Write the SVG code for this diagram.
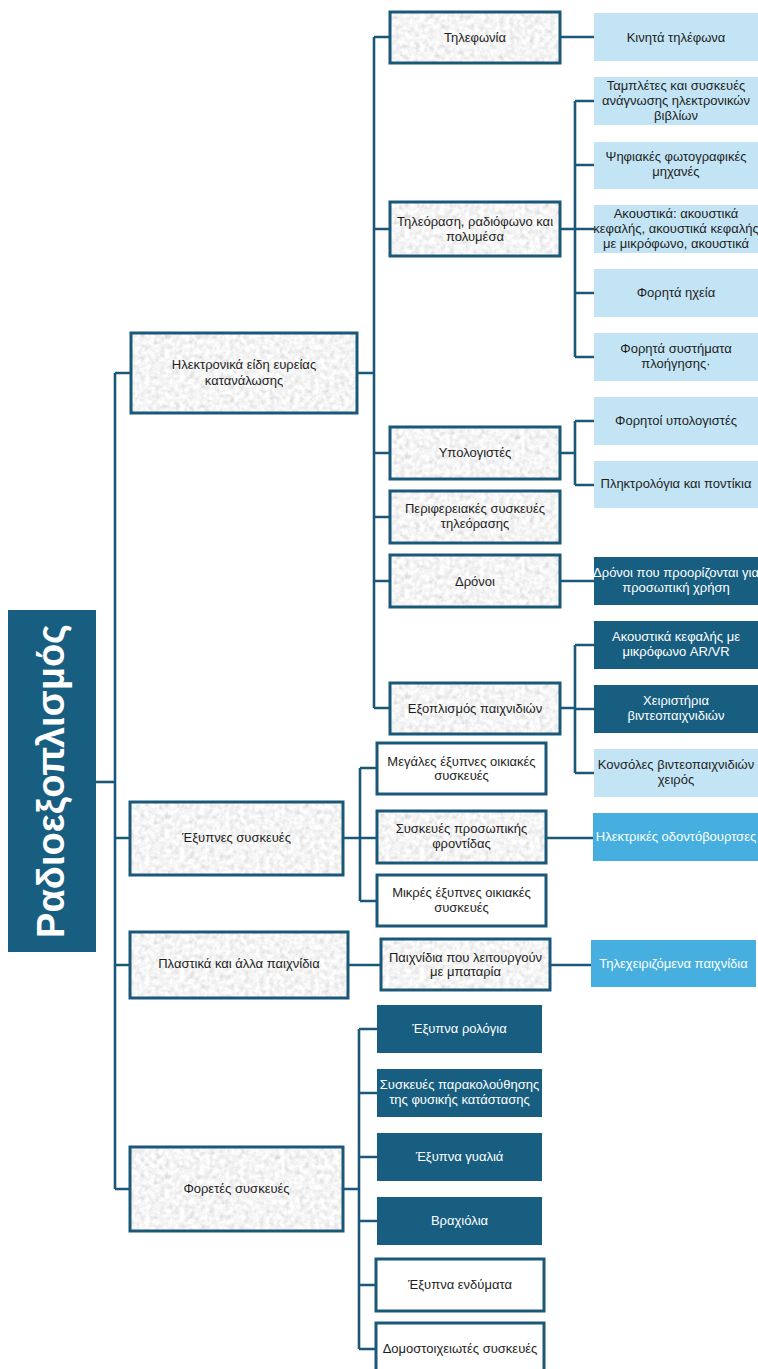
<svg xmlns="http://www.w3.org/2000/svg" width="758" height="1369" viewBox="0 0 758 1369">
<defs>
<filter id="noise" x="0" y="0" width="100%" height="100%">
<feTurbulence type="fractalNoise" baseFrequency="0.2" numOctaves="4" seed="7" stitchTiles="stitch"/>
<feColorMatrix type="matrix" values="0.35 0.35 0 0 0.56  0.35 0.35 0 0 0.56  0.35 0.35 0 0 0.56  0 0 0 0 1"/>
</filter>
<pattern id="marble" patternUnits="userSpaceOnUse" width="240" height="120">
<rect width="240" height="120" fill="#eeeeee" filter="url(#noise)"/>
</pattern>
</defs>
<style>
text{font-family:"Liberation Sans",Arial,sans-serif;font-size:13px;text-anchor:middle;fill:#1e1e1e}
.gray{fill:url(#marble);stroke:#1b5878;stroke-width:3}
.white{fill:#ffffff;stroke:#1b5878;stroke-width:3}
.dark{fill:#185e80}
.light{fill:#c3e4f4}
.mid{fill:#46afe0}
text.w{fill:#ffffff}
.conn path{fill:none;stroke:#1b5878;stroke-width:2.6}
.root{fill:#185e80}
.roottext{font-size:38px;font-weight:bold;fill:#ffffff}
</style>
<g class="conn" id="connectors">
<path d="M96,782 H115"/>
<path d="M115,373 V1189"/>
<path d="M115,373 H131 M115,838 H130 M115,965 H130 M115,1189 H130"/>
<path d="M358,373 H374 M374,37 V708 M374,37 H390 M374,229 H390 M374,453 H390 M374,517 H390 M374,581 H390 M374,708 H390"/>
<path d="M560,37 H594"/>
<path d="M560,229 H575 M575,101 V357 M575,101 H594 M575,165 H594 M575,229 H594 M575,293 H594 M575,357 H594"/>
<path d="M560,453 H575 M575,421 V485 M575,421 H594 M575,485 H594"/>
<path d="M560,581 H594"/>
<path d="M560,708 H575 M575,645 V773 M575,645 H594 M575,709 H594 M575,773 H594"/>
<path d="M343,838 H360 M360,768 V901 M360,768 H377 M360,838 H377 M360,901 H377"/>
<path d="M546,838 H593"/>
<path d="M348,965 H381"/>
<path d="M550,965 H591"/>
<path d="M343,1189 H359 M359,1029 V1349 M359,1029 H377 M359,1093 H377 M359,1157 H377 M359,1221 H377 M359,1285 H375 M359,1349 H375"/>
</g>
<g id="root">
<rect class="root" x="8" y="610" width="88" height="342"/>
<text class="roottext" transform="translate(64,781) rotate(-90)">Ραδιοεξοπλισμός</text>
</g>
<g id="n-electronics">
<rect class="gray" x="131" y="333" width="226" height="80"/>
<text x="244" y="369">Ηλεκτρονικά είδη ευρείας</text>
<text x="244" y="385">κατανάλωσης</text>
</g>
<g id="n-smart">
<rect class="gray" x="130" y="802" width="213" height="73"/>
<text x="236.5" y="842">Έξυπνες συσκευές</text>
</g>
<g id="n-toys">
<rect class="gray" x="130" y="932" width="218" height="66"/>
<text x="239" y="968">Πλαστικά και άλλα παιχνίδια</text>
</g>
<g id="n-wearables">
<rect class="gray" x="130" y="1147" width="213" height="84"/>
<text x="236.5" y="1193">Φορετές συσκευές</text>
</g>
<g id="n-telephony">
<rect class="gray" x="390" y="12" width="170" height="51"/>
<text x="475" y="41.5">Τηλεφωνία</text>
</g>
<g id="n-tv">
<rect class="gray" x="390" y="202" width="170" height="54"/>
<text x="475" y="226">Τηλεόραση, ραδιόφωνο και</text>
<text x="475" y="241">πολυμέσα</text>
</g>
<g id="n-computers">
<rect class="gray" x="390" y="427" width="170" height="52"/>
<text x="475" y="457">Υπολογιστές</text>
</g>
<g id="n-tvperiph">
<rect class="gray" x="390" y="491" width="170" height="52"/>
<text x="475" y="513">Περιφερειακές συσκευές</text>
<text x="475" y="528">τηλεόρασης</text>
</g>
<g id="n-drones">
<rect class="gray" x="390" y="555" width="170" height="52"/>
<text x="475" y="586">Δρόνοι</text>
</g>
<g id="n-gaming">
<rect class="gray" x="390" y="683" width="170" height="51"/>
<text x="475" y="713">Εξοπλισμός παιχνιδιών</text>
</g>
<g id="n-mobile">
<rect class="light" x="594" y="13" width="166" height="48"/>
<text x="676" y="41.5">Κινητά τηλέφωνα</text>
</g>
<g id="n-tablets">
<rect class="light" x="594" y="77" width="166" height="48"/>
<text x="676" y="90">Ταμπλέτες και συσκευές</text>
<text x="676" y="105">ανάγνωσης ηλεκτρονικών</text>
<text x="676" y="120">βιβλίων</text>
</g>
<g id="n-cameras">
<rect class="light" x="594" y="142" width="166" height="47"/>
<text x="676" y="161">Ψηφιακές φωτογραφικές</text>
<text x="676" y="176">μηχανές</text>
</g>
<g id="n-audio">
<rect class="light" x="594" y="205" width="166" height="48"/>
<text x="676" y="218">Ακουστικά: ακουστικά</text>
<text x="676" y="233">κεφαλής, ακουστικά κεφαλής</text>
<text x="676" y="248">με μικρόφωνο, ακουστικά</text>
</g>
<g id="n-speakers">
<rect class="light" x="594" y="269" width="166" height="48"/>
<text x="676" y="297">Φορητά ηχεία</text>
</g>
<g id="n-nav">
<rect class="light" x="594" y="333" width="166" height="48"/>
<text x="676" y="353">Φορητά συστήματα</text>
<text x="676" y="368">πλοήγησης·</text>
</g>
<g id="n-laptops">
<rect class="light" x="594" y="397" width="166" height="48"/>
<text x="676" y="425">Φορητοί υπολογιστές</text>
</g>
<g id="n-keyboards">
<rect class="light" x="594" y="461" width="166" height="47"/>
<text x="676" y="488">Πληκτρολόγια και ποντίκια</text>
</g>
<g id="n-personal-drones">
<rect class="dark" x="594" y="557" width="166" height="48"/>
<text class="w" x="676" y="577">Δρόνοι που προορίζονται για</text>
<text class="w" x="676" y="592">προσωπική χρήση</text>
</g>
<g id="n-arvr">
<rect class="dark" x="594" y="621" width="166" height="48"/>
<text class="w" x="676" y="641">Ακουστικά κεφαλής με</text>
<text class="w" x="676" y="656">μικρόφωνο AR/VR</text>
</g>
<g id="n-controllers">
<rect class="dark" x="594" y="685" width="166" height="48"/>
<text class="w" x="676" y="705">Χειριστήρια</text>
<text class="w" x="676" y="720">βιντεοπαιχνιδιών</text>
</g>
<g id="n-handheld">
<rect class="light" x="594" y="749" width="166" height="48"/>
<text x="676" y="769">Κονσόλες βιντεοπαιχνιδιών</text>
<text x="676" y="784">χειρός</text>
</g>
<g id="n-large-appliances">
<rect class="white" x="377" y="743" width="169" height="51"/>
<text x="461.5" y="766">Μεγάλες έξυπνες οικιακές</text>
<text x="461.5" y="780">συσκευές</text>
</g>
<g id="n-personal-care">
<rect class="gray" x="377" y="811" width="169" height="52"/>
<text x="461.5" y="833">Συσκευές προσωπικής</text>
<text x="461.5" y="848">φροντίδας</text>
</g>
<g id="n-small-appliances">
<rect class="white" x="377" y="875" width="169" height="51"/>
<text x="461.5" y="897">Μικρές έξυπνες οικιακές</text>
<text x="461.5" y="912">συσκευές</text>
</g>
<g id="n-toothbrushes">
<rect class="mid" x="593" y="813" width="167" height="48"/>
<text class="w" x="676" y="841">Ηλεκτρικές οδοντόβουρτσες</text>
</g>
<g id="n-battery-toys">
<rect class="gray" x="381" y="939" width="169" height="51"/>
<text x="465.5" y="962">Παιχνίδια που λειτουργούν</text>
<text x="465.5" y="976">με μπαταρία</text>
</g>
<g id="n-rc-toys">
<rect class="mid" x="591" y="940" width="165" height="47"/>
<text class="w" x="673.5" y="968">Τηλεχειριζόμενα παιχνίδια</text>
</g>
<g id="n-watches">
<rect class="dark" x="377" y="1005" width="165" height="48"/>
<text class="w" x="459.5" y="1033">Έξυπνα ρολόγια</text>
</g>
<g id="n-fitness">
<rect class="dark" x="377" y="1069" width="165" height="48"/>
<text class="w" x="459.5" y="1089">Συσκευές παρακολούθησης</text>
<text class="w" x="459.5" y="1104">της φυσικής κατάστασης</text>
</g>
<g id="n-glasses">
<rect class="dark" x="377" y="1133" width="165" height="48"/>
<text class="w" x="459.5" y="1161">Έξυπνα γυαλιά</text>
</g>
<g id="n-bracelets">
<rect class="dark" x="377" y="1197" width="165" height="48"/>
<text class="w" x="459.5" y="1225">Βραχιόλια</text>
</g>
<g id="n-clothing">
<rect class="white" x="376" y="1259" width="168" height="52"/>
<text x="460" y="1289">Έξυπνα ενδύματα</text>
</g>
<g id="n-modular">
<rect class="white" x="376" y="1323" width="168" height="52"/>
<text x="460" y="1353">Δομοστοιχειωτές συσκευές</text>
</g>
</svg>
